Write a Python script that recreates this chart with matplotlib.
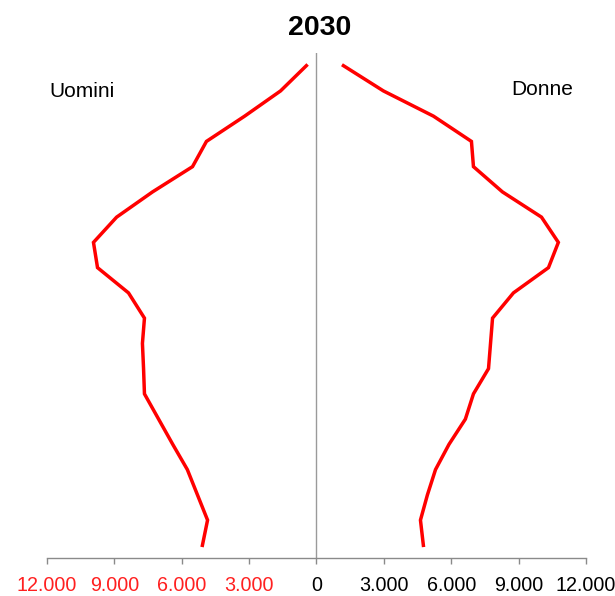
import matplotlib
matplotlib.use("Agg")
import matplotlib.pyplot as plt
from matplotlib.ticker import FuncFormatter

plt.rcParams['font.family'] = ['Liberation Sans', 'DejaVu Sans']

# age classes, bottom (0-4) to top (95+)
ages = ["0-4", "5-9", "10-14", "15-19", "20-24", "25-29", "30-34", "35-39",
        "40-44", "45-49", "50-54", "55-59", "60-64", "65-69", "70-74",
        "75-79", "80-84", "85-89", "90-94", "95+"]

uomini = [5080, 4850, 5300, 5750, 6400, 7030, 7660, 7700, 7750, 7660,
          8370, 9750, 9930, 8900, 7300, 5520, 4900, 3200, 1600, 450]
donne = [4760, 4630, 4940, 5300, 5900, 6630, 6990, 7660, 7750, 7840,
         8770, 10330, 10770, 10020, 8280, 6990, 6900, 5210, 2980, 1200]

xticks = [-12000, -9000, -6000, -3000, 0, 3000, 6000, 9000, 12000]

fig = plt.figure(figsize=(6.15, 5.96), dpi=100)
ax = fig.add_axes([0.0764, 0.0638, 0.8764, 0.8472])

pos = list(range(len(ages)))
ax.plot([-v for v in uomini], pos, color='#ff0000', lw=2.5, solid_joinstyle='miter')
ax.plot(donne, pos, color='#ff0000', lw=2.5, solid_joinstyle='miter')

ax.axvline(0, color='#9a9a9a', lw=1)

ax.set_xlim(-12000, 12000)
ax.set_ylim(-0.5, 19.5)
ax.set_xticks(xticks)
ax.xaxis.set_major_formatter(FuncFormatter(
    lambda v, p: f"{abs(int(v)):,}".replace(",", ".")))
ax.tick_params(axis='x', direction='out', length=4, width=1, color='#8a8a8a',
               labelsize=14.2, pad=9)
ax.set_yticks([])
for s in ('left', 'right', 'top'):
    ax.spines[s].set_visible(False)
ax.spines['bottom'].set_color('#8a8a8a')
ax.spines['bottom'].set_linewidth(1)

for lab, v in zip(ax.get_xticklabels(), xticks):
    lab.set_color('#ff2020' if v < 0 else 'black')

fig.text(0.519, 0.953, "2030", ha='center', va='center', fontsize=20.5,
         fontweight='bold')
fig.text(0.0797, 0.847, "Uomini", ha='left', va='center', fontsize=15)
fig.text(0.932, 0.849, "Donne", ha='right', va='center', fontsize=15)

fig.savefig("out.png", dpi=100)
